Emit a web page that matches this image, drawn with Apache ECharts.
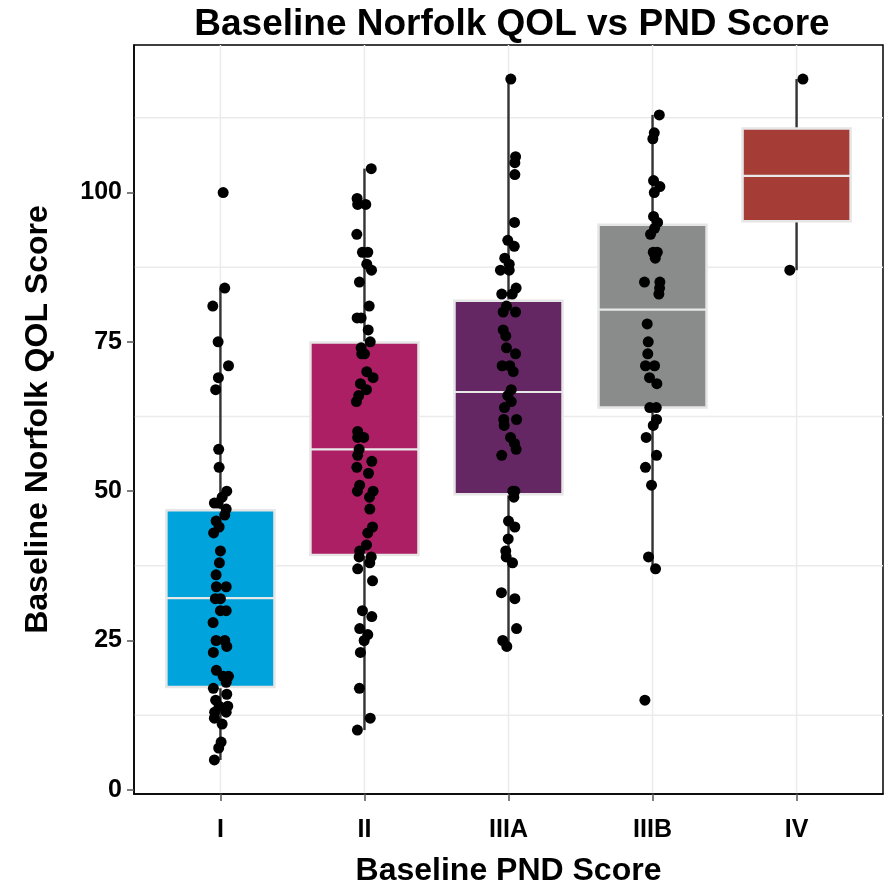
<!DOCTYPE html>
<html>
<head>
<meta charset="utf-8">
<script src="https://cdn.jsdelivr.net/npm/echarts@6/dist/echarts.min.js"></script>
<style>
html,body{margin:0;padding:0;background:#fff;}
#chart{width:885px;height:886px;}
</style>
</head>
<body>
<div id="chart"></div>
<script>
// ---- data ----
const categories = ['I', 'II', 'IIIA', 'IIIB', 'IV'];
const categoryPositions = [1, 2, 3, 4, 5];
const yTicks = [0, 25, 50, 75, 100];
const yMinorGrid = [12.5, 37.5, 62.5, 87.5, 112.5];

// box statistics (lower whisker, Q1, median, Q3, upper whisker)
const boxLow    = [5, 10, 24, 37, 87];
const boxQ1     = [17.2, 39.3, 49.5, 64.0, 95.2];
const boxMedian = [32.1, 57.0, 66.6, 80.4, 102.8];
const boxQ3     = [46.8, 74.9, 81.9, 94.6, 110.7];
const boxHigh   = [84, 104, 119, 113, 119];
const boxColors = ['#00A3DB', '#AD1F64', '#652763', '#8A8C8B', '#A63C36'];

// individual patient points (values) and horizontal jitter (category units)
const groupIValues  = [100,84,81,75,71,69,67,57,54,50,49,48,48,47,46,45,44,43,40,38,36,34,34,32,32,30,30,28,25,25,24,23,20,19,19,18,17,16,15,14,14,13,13,12,11,8,7,5];
const groupIJitter  = [0.019,0.030,-0.053,-0.016,0.056,-0.014,-0.033,-0.012,-0.009,0.044,0.012,-0.042,-0.016,0.040,0.030,-0.030,-0.009,-0.047,0.000,-0.007,-0.030,-0.028,0.040,-0.035,0.000,0.000,0.040,-0.051,-0.030,0.030,0.044,-0.049,-0.028,0.019,0.056,0.040,-0.049,0.044,-0.033,0.051,-0.009,0.040,-0.040,-0.042,0.012,0.005,-0.012,-0.042];

const groupIIValues = [104,99,98,98,93,90,90,88,87,85,81,79,79,77,75,74,73,73,70,69,68,67,66,65,60,59,59,57,56,55,54,53,51,50,50,49,47,44,43,41,40,39,39,38,37,35,30,29,27,26,25,23,17,12,10];
const groupIIJitter = [0.047,-0.051,-0.047,0.009,-0.053,0.023,-0.014,0.016,0.049,-0.035,0.033,-0.051,-0.023,0.026,0.040,-0.023,-0.019,0.000,0.016,0.060,-0.028,0.014,-0.040,-0.056,-0.047,-0.005,-0.047,-0.037,-0.047,0.051,-0.053,0.028,-0.033,-0.049,0.060,0.035,0.037,0.056,0.023,0.014,-0.033,-0.037,0.047,0.037,-0.047,0.056,-0.014,0.051,-0.033,0.023,-0.002,-0.028,-0.035,0.040,-0.049];

const groupIIIAValues = [119,106,105,103,95,92,91,89,88,87,87,84,83,83,81,80,80,77,76,74,73,71,71,70,67,66,65,64,62,62,61,59,58,57,56,50,50,49,45,44,42,40,39,38,33,32,27,25,24];
const groupIIIAJitter = [0.016,0.049,0.044,0.044,0.042,-0.005,0.040,-0.026,0.005,-0.056,0.005,0.053,-0.047,0.026,-0.014,-0.037,0.049,-0.037,-0.019,-0.014,0.049,-0.044,0.009,0.033,0.019,-0.005,0.019,-0.028,-0.033,0.056,-0.030,0.014,0.042,0.053,-0.047,0.044,0.030,0.037,0.000,0.044,-0.002,-0.019,-0.016,0.028,-0.049,0.044,0.056,-0.040,-0.012];

const groupIIIBValues = [113,110,109,102,101,100,96,95,94,93,90,90,89,85,85,84,83,78,75,73,71,71,69,68,64,64,62,61,59,56,54,51,39,37,15];
const groupIIIBJitter = [0.047,0.012,0.002,0.007,0.051,0.012,0.007,0.035,0.014,-0.014,0.005,0.033,0.019,-0.056,0.051,0.049,0.044,-0.037,-0.030,-0.033,-0.049,0.014,-0.021,0.030,-0.019,0.026,0.028,0.005,-0.044,0.028,-0.049,-0.007,-0.028,0.021,-0.053];

const groupIVValues = [119, 87];
const groupIVJitter = [0.044, -0.047];

// ---- build chart ----
const groupValues = [groupIValues, groupIIValues, groupIIIAValues, groupIIIBValues, groupIVValues];
const groupJitter = [groupIJitter, groupIIJitter, groupIIIAJitter, groupIIIBJitter, groupIVJitter];

const pointData = [];
groupValues.forEach((vals, g) => {
  vals.forEach((v, j) => pointData.push([categoryPositions[g] + groupJitter[g][j], v]));
});

const boxData = categories.map((c, i) => [categoryPositions[i], boxLow[i], boxQ1[i], boxMedian[i], boxQ3[i], boxHigh[i]]);

const FONT = '"Liberation Sans", Arial, Helvetica, sans-serif';
const GRID_COLOR = '#ebebeb';

const chart = echarts.init(document.getElementById('chart'), null, {renderer: 'canvas'});

const option = {
  animation: false,
  backgroundColor: '#ffffff',
  title: {
    text: 'Baseline Norfolk QOL vs PND Score',
    left: 507,
    top: 1,
    textAlign: 'center',
    textStyle: {fontFamily: FONT, fontWeight: 'bold', fontSize: 37, color: '#000'}
  },
  grid: {
    left: 134, right: 2, top: 45, bottom: 92,
    outerBoundsMode: 'none',
    containLabel: false,
    show: true, borderColor: '#000', borderWidth: 1.5, backgroundColor: '#fff'
  },
  xAxis: {
    type: 'value',
    min: 0.4, max: 5.6,
    name: 'Baseline PND Score',
    nameLocation: 'middle',
    nameGap: 61,
    nameTextStyle: {fontFamily: FONT, fontWeight: 'bold', fontSize: 32, color: '#000'},
    axisLine: {show: true, onZero: false, lineStyle: {color: '#000', width: 1.5}},
    axisTick: {show: true, length: 7, lineStyle: {color: '#555', width: 1.5}, customValues: categoryPositions},
    axisLabel: {
      customValues: categoryPositions,
      formatter: v => categories[categoryPositions.indexOf(Math.round(v))],
      margin: 24,
      fontFamily: FONT, fontWeight: 'bold', fontSize: 25, color: '#000'
    },
    splitLine: {show: false}
  },
  yAxis: {
    type: 'value',
    min: -0.7, max: 124.7,
    name: 'Baseline Norfolk QOL Score',
    nameLocation: 'middle',
    nameGap: 80,
    nameRotate: 90,
    nameTextStyle: {fontFamily: FONT, fontWeight: 'bold', fontSize: 32, color: '#000'},
    axisLine: {show: true, onZero: false, lineStyle: {color: '#000', width: 1.5}},
    axisTick: {show: true, length: 7, lineStyle: {color: '#555', width: 1.5}, customValues: yTicks},
    axisLabel: {
      customValues: yTicks,
      margin: 12,
      fontFamily: FONT, fontWeight: 'bold', fontSize: 25, color: '#000'
    },
    splitLine: {show: false}
  },
  series: [
    {
      // vertical grid lines at category positions
      type: 'custom',
      z: 0,
      silent: true,
      data: categoryPositions.map(v => [v]),
      encode: {x: 0},
      renderItem: function (params, api) {
        const cs = params.coordSys;
        const p = api.coord([api.value(0), 0]);
        return {type: 'line', shape: {x1: p[0], y1: cs.y, x2: p[0], y2: cs.y + cs.height},
                style: {stroke: GRID_COLOR, lineWidth: 1.5}};
      }
    },
    {
      // horizontal minor grid lines
      type: 'custom',
      z: 0,
      silent: true,
      data: yMinorGrid.map(v => [1, v]),
      encode: {x: 0, y: 1},
      renderItem: function (params, api) {
        const cs = params.coordSys;
        const p = api.coord([1, api.value(1)]);
        return {type: 'line', shape: {x1: cs.x, y1: p[1], x2: cs.x + cs.width, y2: p[1]},
                style: {stroke: GRID_COLOR, lineWidth: 1.5}};
      }
    },
    {
      type: 'custom',
      z: 2,
      data: boxData,
      encode: {x: 0, y: [1, 2, 3, 4, 5]},
      renderItem: function (params, api) {
        const x = api.value(0);
        const lo = api.coord([x, api.value(1)]);
        const q1 = api.coord([x, api.value(2)]);
        const md = api.coord([x, api.value(3)]);
        const q3 = api.coord([x, api.value(4)]);
        const hi = api.coord([x, api.value(5)]);
        const halfW = api.size([0.75, 0])[0] / 2;
        const color = boxColors[params.dataIndex];
        return {
          type: 'group',
          children: [
            {type: 'line', shape: {x1: lo[0], y1: lo[1], x2: q1[0], y2: q1[1]}, style: {stroke: '#333', lineWidth: 2.4}},
            {type: 'line', shape: {x1: q3[0], y1: q3[1], x2: hi[0], y2: hi[1]}, style: {stroke: '#333', lineWidth: 2.4}},
            {type: 'rect', shape: {x: q3[0] - halfW, y: q3[1], width: 2 * halfW, height: q1[1] - q3[1]},
             style: {fill: color, stroke: '#e6e6e6', lineWidth: 2.5}},
            {type: 'line', shape: {x1: md[0] - halfW, y1: md[1], x2: md[0] + halfW, y2: md[1]},
             style: {stroke: '#e8e8e8', lineWidth: 2.2}}
          ]
        };
      }
    },
    {
      type: 'scatter',
      z: 3,
      data: pointData,
      symbol: 'circle',
      symbolSize: 11,
      itemStyle: {color: '#000', opacity: 1}
    }
  ]
};
chart.setOption(option);
</script>
</body>
</html>
